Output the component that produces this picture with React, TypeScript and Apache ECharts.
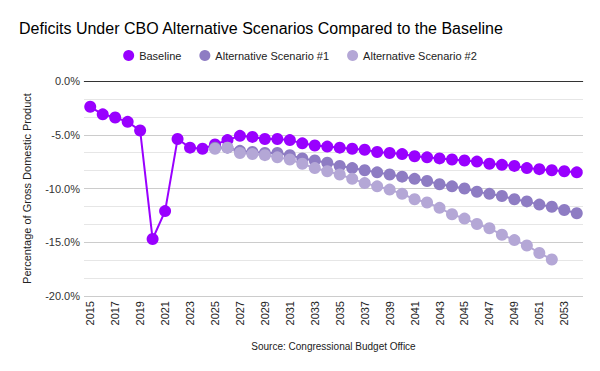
import React, { useEffect, useRef } from "react";
import * as echarts from "echarts";

const years: string[] = [];
for (let y = 2015; y <= 2054; y++) years.push(String(y));

const baseline = [
  -2.4, -3.1, -3.4, -3.8, -4.6, -14.7, -12.1, -5.4, -6.2, -6.3,
  -5.9, -5.5, -5.1, -5.2, -5.4, -5.4, -5.5, -5.8, -6.0, -6.1,
  -6.2, -6.3, -6.4, -6.6, -6.7, -6.8, -7.0, -7.1, -7.2, -7.3,
  -7.4, -7.5, -7.7, -7.8, -7.9, -8.1, -8.2, -8.3, -8.4, -8.5,
];

const alt1 = [
  null, null, null, null, null, null, null, null, null, null,
  -6.2, -6.2, -6.5, -6.6, -6.7, -6.7, -6.9, -7.2, -7.4, -7.6,
  -7.9, -8.1, -8.3, -8.5, -8.7, -8.9, -9.1, -9.3, -9.6, -9.8,
  -10.0, -10.3, -10.5, -10.7, -11.0, -11.2, -11.5, -11.7, -12.0, -12.3,
];

const alt2 = [
  null, null, null, null, null, null, null, null, null, null,
  -6.3, -6.2, -6.7, -6.8, -6.9, -7.1, -7.3, -7.7, -8.1, -8.4,
  -8.7, -9.1, -9.5, -9.8, -10.1, -10.5, -11.0, -11.3, -11.8, -12.4,
  -12.8, -13.3, -13.7, -14.3, -14.8, -15.3, -16.0, -16.6, null, null,
];

const FONT = "'Liberation Sans', Arial, sans-serif";

export default function App() {
  const ref = useRef<HTMLDivElement>(null);
  useEffect(() => {
    if (!ref.current) return;
    const chart = echarts.init(ref.current, null, { renderer: "svg" });
    const mk = (name: string, data: any[], color: string) => ({
      name,
      type: "line",
      data,
      symbol: "circle",
      symbolSize: 12,
      showSymbol: true,
      showAllSymbol: true,
      connectNulls: false,
      itemStyle: { color, opacity: 1 },
      lineStyle: { color, width: 2 },
      emphasis: { disabled: true },
    });
    chart.setOption({
      animation: false,
      backgroundColor: "#ffffff",
      textStyle: { fontFamily: FONT },
      title: {
        text: "Deficits Under CBO Alternative Scenarios Compared to the Baseline",
        left: 14,
        top: 15,
        textStyle: { fontFamily: FONT, fontSize: 16, fontWeight: "normal", color: "#000" },
      },
      legend: {
        top: 45,
        left: "center",
        icon: "circle",
        itemWidth: 11,
        itemHeight: 11,
        itemGap: 18,
        textStyle: { fontFamily: FONT, fontSize: 11, color: "#222" },
        data: ["Baseline", "Alternative Scenario #1", "Alternative Scenario #2"],
      },
      grid: { left: 84, right: 17, top: 81, bottom: 75, containLabel: false },
      xAxis: {
        type: "category",
        data: years,
        boundaryGap: true,
        name: "Source: Congressional Budget Office",
        nameLocation: "middle",
        nameGap: 45,
        nameTextStyle: { fontFamily: FONT, fontSize: 10, color: "#222" },
        axisLine: { show: true, lineStyle: { color: "#cccccc" } },
        axisTick: { show: false },
        axisLabel: {
          interval: 1,
          rotate: 90,
          fontSize: 11,
          color: "#222",
          fontFamily: FONT,
          margin: 5,
        },
      },
      yAxis: {
        type: "value",
        min: -20,
        max: 0,
        interval: 5,
        name: "Percentage of Gross Domestic Product",
        nameLocation: "middle",
        nameGap: 52,
        nameTextStyle: { fontFamily: FONT, fontSize: 11, color: "#222" },
        axisLine: { show: false },
        axisTick: { show: false },
        axisLabel: {
          formatter: (v: number) => v.toFixed(1) + "%",
          fontSize: 11,
          color: "#333",
          fontFamily: FONT,
          margin: 4,
        },
        splitLine: { show: true, lineStyle: { color: "#cccccc", width: 1 } },
        minorTick: { show: false, splitNumber: 3 },
        minorSplitLine: { show: true, lineStyle: { color: "#e6e6e6", width: 1 } },
      },
      series: [
        {
          ...mk("Baseline", baseline, "#9900ff"),
          markLine: {
            silent: true,
            symbol: "none",
            label: { show: false },
            lineStyle: { color: "#333333", type: "solid", width: 1 },
            data: [{ yAxis: 0 }],
          },
        },
        mk("Alternative Scenario #1", alt1, "#8e7cc3"),
        mk("Alternative Scenario #2", alt2, "#b4a7d6"),
      ],
    });
    return () => chart.dispose();
  }, []);
  return <div ref={ref} style={{ width: 600, height: 371, position: "absolute", left: 0, top: 0 }} />;
}
